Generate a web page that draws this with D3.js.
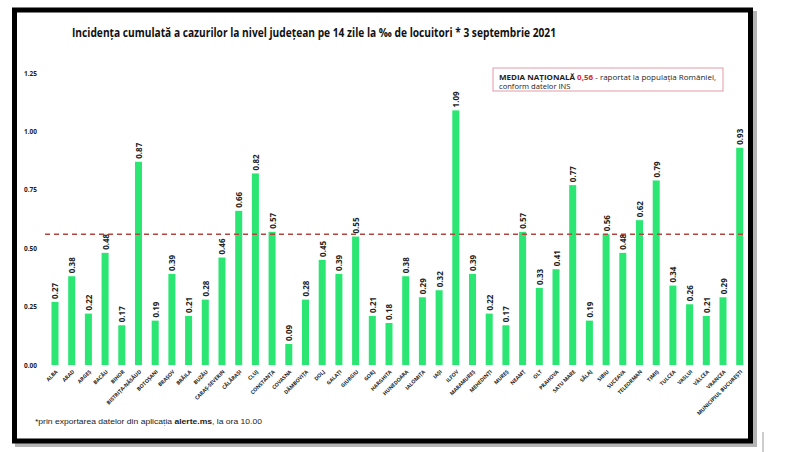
<!DOCTYPE html>
<html lang="ro">
<head>
<meta charset="UTF-8">
<title>Incidența cumulată</title>
<style>
  html, body { margin: 0; padding: 0; background: #fff; overflow: hidden; }
  svg { display: block; font-family: "Open Sans", "DejaVu Sans", sans-serif; }
</style>
</head>
<body>
<svg id="chart" width="800" height="452"></svg>
<script src="https://cdn.jsdelivr.net/npm/d3@7"></script>
<script>
// judete
const counties = ['ALBA', 'ARAD', 'ARGEȘ', 'BACĂU', 'BIHOR', 'BISTRIȚA-NĂSĂUD', 'BOTOȘANI', 'BRAȘOV',
  'BRĂILA', 'BUZĂU', 'CARAȘ-SEVERIN', 'CĂLĂRAȘI', 'CLUJ', 'CONSTANȚA', 'COVASNA', 'DÂMBOVIȚA',
  'DOLJ', 'GALAȚI', 'GIURGIU', 'GORJ', 'HARGHITA', 'HUNEDOARA', 'IALOMIȚA', 'IAȘI', 'ILFOV',
  'MARAMUREȘ', 'MEHEDINȚI', 'MUREȘ', 'NEAMȚ', 'OLT', 'PRAHOVA', 'SATU MARE', 'SĂLAJ', 'SIBIU',
  'SUCEAVA', 'TELEORMAN', 'TIMIȘ', 'TULCEA', 'VASLUI', 'VÂLCEA', 'VRANCEA', 'MUNICIPIUL BUCUREȘTI'];
// incidenta la mie
const incidence = [0.27, 0.38, 0.22, 0.48, 0.17, 0.87, 0.19, 0.39, 0.21, 0.28, 0.46, 0.66, 0.82, 0.57,
  0.09, 0.28, 0.45, 0.39, 0.55, 0.21, 0.18, 0.38, 0.29, 0.32, 1.09, 0.39, 0.22, 0.17, 0.57, 0.33,
  0.41, 0.77, 0.19, 0.56, 0.48, 0.62, 0.79, 0.34, 0.26, 0.21, 0.29, 0.93];
const yTicks = [0, 0.25, 0.5, 0.75, 1.0, 1.25];
const nationalAvg = 0.56;

const svg = d3.select('#chart');

// rama neagra cu umbra
svg.append('rect').attr('x', 17.5).attr('y', 13.5).attr('width', 737).attr('height', 431)
  .attr('fill', 'none').attr('stroke', '#777').attr('stroke-width', 5).attr('opacity', 0.55);
svg.append('rect').attr('x', 14.5).attr('y', 10).attr('width', 736).attr('height', 431)
  .attr('fill', '#fff').attr('stroke', '#000').attr('stroke-width', 5);
svg.append('line').attr('x1', 763).attr('x2', 763).attr('y1', 432).attr('y2', 452)
  .attr('stroke', '#999').attr('stroke-width', 1);

const x = d3.scaleBand().domain(counties).range([41.8, 752.9]).padding(0.58);
const y = d3.scaleLinear().domain([0, 1.25]).range([365, 73]);

// titlu
svg.append('text')
  .attr('x', 72).attr('y', 37)
  .attr('textLength', 484).attr('lengthAdjust', 'spacingAndGlyphs')
  .style('font-size', '11.5px').style('font-weight', 'bold').attr('fill', '#111')
  .text('Incidența cumulată a cazurilor la nivel județean pe 14 zile la ‰ de locuitori * 3 septembrie 2021');

// axa y
const yAxis = svg.append('g').attr('transform', 'translate(39,0)')
  .call(d3.axisLeft(y).tickValues(yTicks).tickFormat(d3.format('.2f')).tickSize(0).tickPadding(2));
yAxis.select('.domain').remove();
yAxis.selectAll('text').style('font-size', '6.5px').style('font-weight', 'bold')
  .style('font-family', '"Open Sans", sans-serif').attr('fill', '#222');

// axa x
const xAxis = svg.append('g').attr('transform', 'translate(0,368)')
  .call(d3.axisBottom(x).tickSize(0).tickPadding(0));
xAxis.select('.domain').remove();
xAxis.selectAll('text')
  .style('font-size', '5.2px').style('font-weight', 'bold')
  .style('font-family', '"Open Sans", sans-serif').attr('fill', '#222')
  .attr('text-anchor', 'end').attr('dy', '0.3em')
  .attr('transform', 'translate(2,3) rotate(-45)');

// bare
svg.append('g').selectAll('rect').data(incidence).join('rect')
  .attr('x', (d, i) => x(counties[i]))
  .attr('width', x.bandwidth())
  .attr('y', d => y(d))
  .attr('height', d => y(0) - y(d))
  .attr('fill', '#2be672');

// etichete valori
svg.append('g').selectAll('text').data(incidence).join('text')
  .attr('transform', (d, i) => `translate(${x(counties[i]) + x.bandwidth() / 2},${y(d) - 3}) rotate(-90)`)
  .attr('dominant-baseline', 'central')
  .style('font-size', '8px').style('font-weight', 'bold').attr('fill', '#222')
  .text(d => d.toFixed(2));

// media nationala
svg.append('line')
  .attr('x1', 45).attr('x2', 746)
  .attr('y1', y(nationalAvg)).attr('y2', y(nationalAvg))
  .attr('stroke', '#b2453f').attr('stroke-width', 1.6).attr('stroke-dasharray', '5,4');

// caseta legenda
svg.append('rect').attr('x', 493).attr('y', 68).attr('width', 230).attr('height', 23)
  .attr('fill', '#fff').attr('stroke', '#e39aa6').attr('stroke-width', 1);
const leg = svg.append('text').attr('x', 499).attr('y', 79.5)
  .attr('textLength', 217).attr('lengthAdjust', 'spacingAndGlyphs')
  .style('font-size', '7.6px').attr('fill', '#222');
leg.append('tspan').style('font-weight', 'bold').text('MEDIA NAȚIONALĂ ');
leg.append('tspan').style('font-weight', 'bold').attr('fill', '#e0261f').text(String(nationalAvg.toFixed(2)).replace('.', ','));
leg.append('tspan').text(' - raportat la populația României,');
svg.append('text').attr('x', 499).attr('y', 88.5).style('font-size', '7.6px').attr('fill', '#222')
  .text('conform datelor INS');

// nota subsol
const note = svg.append('text').attr('x', 35).attr('y', 424)
  .attr('textLength', 227).attr('lengthAdjust', 'spacingAndGlyphs')
  .style('font-size', '7.5px').style('font-family', '"Liberation Sans", sans-serif').attr('fill', '#222');
note.append('tspan').text('*prin exportarea datelor din aplicația ');
note.append('tspan').style('font-weight', 'bold').text('alerte.ms');
note.append('tspan').text(', la ora 10.00');
</script>
</body>
</html>
